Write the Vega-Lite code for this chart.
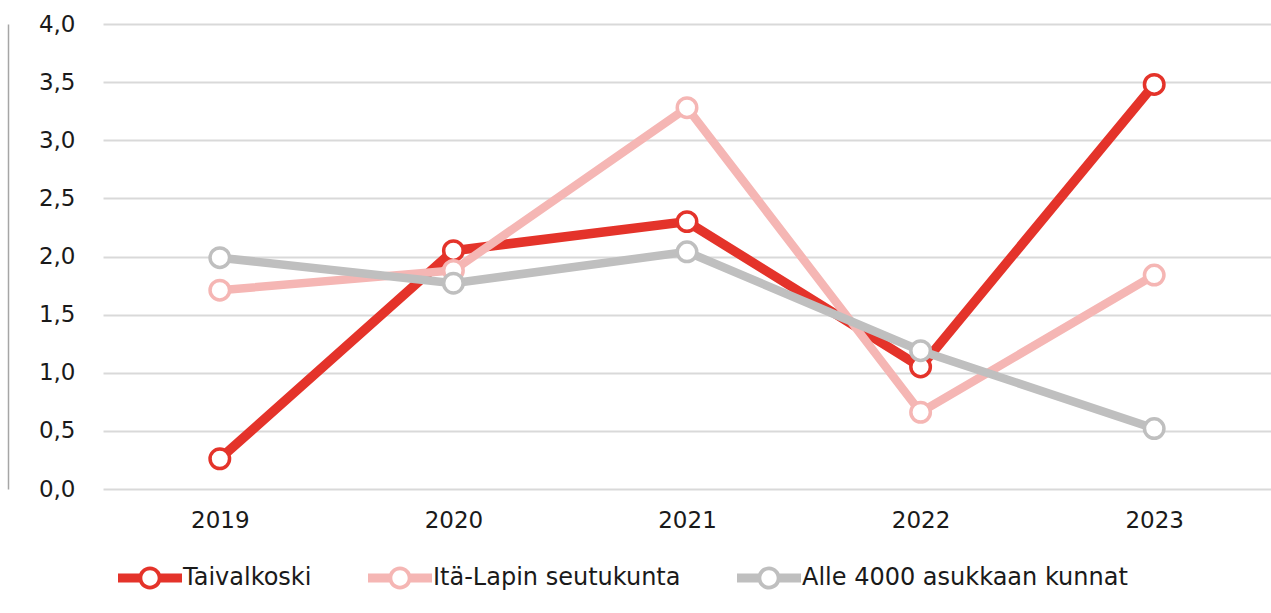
{
  "$schema": "https://vega.github.io/schema/vega-lite/v6.json",
  "width": 1168,
  "height": 465,
  "autosize": {"type": "none"},
  "padding": {"left": 103, "top": 24, "right": 0, "bottom": 124},
  "background": "white",
  "config": {
    "font": "DejaVu Sans",
    "view": {"stroke": null},
    "axis": {"labelFont": "DejaVu Sans", "labelFontSize": 23, "labelColor": "#1a1a1a", "ticks": false, "domain": false, "title": null},
    "legend": {"labelFont": "DejaVu Sans", "labelFontSize": 24, "labelColor": "#1a1a1a", "labelLimit": 0}
  },
  "data": {
    "values": [
      {"year": "2019", "series": "Taivalkoski", "value": 0.26},
      {"year": "2020", "series": "Taivalkoski", "value": 2.05},
      {"year": "2021", "series": "Taivalkoski", "value": 2.30},
      {"year": "2022", "series": "Taivalkoski", "value": 1.05},
      {"year": "2023", "series": "Taivalkoski", "value": 3.48},
      {"year": "2019", "series": "Itä-Lapin seutukunta", "value": 1.71},
      {"year": "2020", "series": "Itä-Lapin seutukunta", "value": 1.88},
      {"year": "2021", "series": "Itä-Lapin seutukunta", "value": 3.28},
      {"year": "2022", "series": "Itä-Lapin seutukunta", "value": 0.66},
      {"year": "2023", "series": "Itä-Lapin seutukunta", "value": 1.84},
      {"year": "2019", "series": "Alle 4000 asukkaan kunnat", "value": 1.99},
      {"year": "2020", "series": "Alle 4000 asukkaan kunnat", "value": 1.77},
      {"year": "2021", "series": "Alle 4000 asukkaan kunnat", "value": 2.04},
      {"year": "2022", "series": "Alle 4000 asukkaan kunnat", "value": 1.19},
      {"year": "2023", "series": "Alle 4000 asukkaan kunnat", "value": 0.52}
    ]
  },
  "resolve": {"axis": {"y": "independent"}},
  "layer": [
    {
      "encoding": {
        "x": {
          "field": "year", "type": "ordinal",
          "scale": {"type": "point", "padding": 0.5},
          "axis": {"labelAngle": 0, "labelPadding": 20, "grid": false}
        },
        "y": {
          "field": "value", "type": "quantitative",
          "scale": {"domain": [0, 4], "nice": false},
          "axis": {
            "orient": "left",
            "values": [0, 0.5, 1, 1.5, 2, 2.5, 3, 3.5, 4],
            "labelExpr": "replace(format(datum.value, '.1f'), '.', ',')",
            "labelPadding": 28,
            "grid": true, "gridColor": "#d9d9d9", "gridWidth": 2
          }
        },
        "color": {
          "field": "series", "type": "nominal",
          "scale": {
            "domain": ["Taivalkoski", "Itä-Lapin seutukunta", "Alle 4000 asukkaan kunnat"],
            "range": ["#E4332A", "#F5B6B4", "#BFBFBF"]
          },
          "legend": {
            "orient": "none",
            "direction": "horizontal",
            "legendX": 15,
            "legendY": 522,
            "title": null,
            "columnPadding": 56,
            "labelOffset": 1,
            "symbolSize": 4096,
            "symbolType": "M-1,-0.14 L-0.3,-0.14 L-0.3,0.14 L-1,0.14 Z M0.3,-0.14 L1,-0.14 L1,0.14 L0.3,0.14 Z M0.36,0 A0.36,0.36 0 1,1 -0.36,0 A0.36,0.36 0 1,1 0.36,0 Z M0.24,0 A0.24,0.24 0 1,0 -0.24,0 A0.24,0.24 0 1,0 0.24,0 Z",
            "encode": {
              "symbols": {
                "update": {
                  "fill": {"scale": "color", "field": "value"},
                  "stroke": {"value": "transparent"},
                  "strokeWidth": {"value": 0},
                  "opacity": {"value": 1},
                  "fillOpacity": {"value": 1}
                }
              }
            }
          }
        }
      },
      "layer": [
        {"transform": [{"filter": "datum.series === 'Taivalkoski'"}], "mark": {"type": "line", "strokeWidth": 9.5}},
        {"transform": [{"filter": "datum.series === 'Taivalkoski'"}], "mark": {"type": "point", "filled": false, "fill": "white", "opacity": 1, "size": 380, "strokeWidth": 3.5}},
        {"transform": [{"filter": "datum.series === 'Itä-Lapin seutukunta'"}], "mark": {"type": "line", "strokeWidth": 8.5}},
        {"transform": [{"filter": "datum.series === 'Itä-Lapin seutukunta'"}], "mark": {"type": "point", "filled": false, "fill": "white", "opacity": 1, "size": 380, "strokeWidth": 3.5}},
        {"transform": [{"filter": "datum.series === 'Alle 4000 asukkaan kunnat'"}], "mark": {"type": "line", "strokeWidth": 8.5}},
        {"transform": [{"filter": "datum.series === 'Alle 4000 asukkaan kunnat'"}], "mark": {"type": "point", "filled": false, "fill": "white", "opacity": 1, "size": 380, "strokeWidth": 3.5}}
      ]
    },
    {
      "mark": {"type": "point", "opacity": 0},
      "encoding": {
        "x": {"field": "year", "type": "ordinal"},
        "y": {
          "field": "value", "type": "quantitative",
          "axis": {"orient": "left", "domain": true, "domainColor": "#a6a6a6", "domainWidth": 1.5, "labels": false, "grid": false, "ticks": false, "offset": 95}
        }
      }
    }
  ]
}
